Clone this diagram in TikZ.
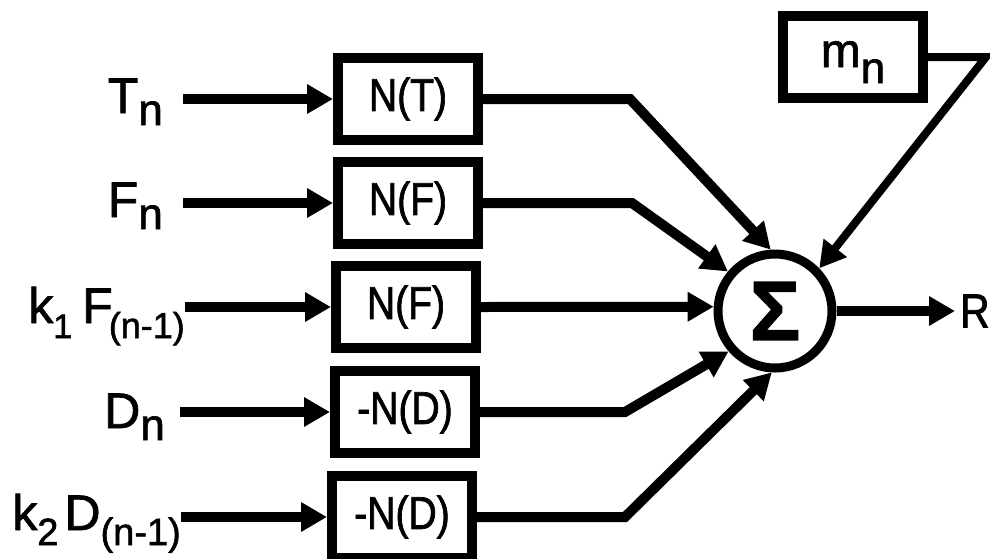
\documentclass[tikz,border=0pt]{standalone}
\usepackage{fontspec}
\setmainfont[FakeBold=1.5]{Liberation Sans}
\newfontfamily\narrowfont[FakeStretch=0.85,FakeBold=1.5]{Liberation Sans}
\usetikzlibrary{arrows.meta}
\newcommand\sz[1]{\fontsize{#1}{#1}\selectfont}
\newcommand\lowr[3]{\raisebox{-#1pt}{\sz{#2}#3}}
\begin{document}
\begin{tikzpicture}[x=1pt,y=-1pt,
  blk/.style={draw, line width=10pt, minimum width=140pt, minimum height=82pt, inner sep=0pt, font=\narrowfont\sz{46}},
  lbl/.style={anchor=base east, inner sep=0pt, font=\sz{50}},
  arr/.style={line width=10pt, line join=miter, -{Triangle[length=26pt,width=28pt]}},
  wire/.style={line width=10pt, line join=miter}
]
\useasboundingbox (0,0) rectangle (990,558);
\fill[white] (0,0) rectangle (990,558);

% blocks
\node[blk] (NT)  at (408,99)  {N(T)};
\node[blk] (NF)  at (408,203) {N(F)};
\node[blk] (NF2) at (406,307) {N(F)};
\node[blk] (ND)  at (405,412) {-N(D)};
\node[blk] (ND2) at (402,517) {-N(D)};
\node[blk, font=\sz{48}, text height=36pt, text depth=16pt] (mn) at (853,57) {m\lowr{16}{44}{n}};

% summing junction
\node[circle, draw, line width=9pt, minimum size=114pt, inner sep=0pt] (sig) at (775,311) {\sz{84}\bfseries Σ};

% input labels
\node[lbl] (Tn) at (163,113) {T\lowr{12}{44}{n}};
\node[lbl] (Fn) at (163,217) {F\lowr{12}{44}{n}};
\node[lbl] (kF) at (185,323) {k\lowr{15}{34}{1}\kern10pt F\kern-4pt\lowr{15}{36}{(n-1)}};
\node[lbl] (Dn) at (165,428) {D\lowr{12}{44}{n}};
\node[lbl] (kD) at (181,530) {k\lowr{15}{38}{2}\kern6pt D\lowr{15}{38}{(n-1)}};

% output label
\node[anchor=west, inner sep=0pt, font=\narrowfont\sz{48}] (R) at (960,311) {R};

% corner points
\coordinate (c1) at (630,99);
\coordinate (c2) at (632,203);
\coordinate (c4) at (625,412);
\coordinate (c5) at (625,517);
\coordinate (c6) at (986,57);

% input arrows
\draw[arr, shorten <=20pt] (Tn.east |- NT) -- (NT.west);
\draw[arr, shorten <=20pt] (Fn.east |- NF) -- (NF.west);
\draw[arr] (kF.east |- NF2) -- (NF2.west);
\draw[arr, shorten <=15pt] (Dn.east |- ND) -- (ND.west);
\draw[arr] (kD.east |- ND2) -- (ND2.west);

% block outputs to junction
\draw[arr] (NT.east) -- (c1) -- (sig.94);
\draw[arr] (NF.east) -- (c2) -- (sig.140);
\draw[arr] (NF2.east) -- (sig.176);
\draw[arr] (ND.east) -- (c4) -- (sig.221);
\draw[arr] (ND2.east) -- (c5) -- (sig.267);
\draw[arr, line width=8pt] (mn.east) -- (c6) -- (sig.44);

% output
\draw[arr, shorten >=5pt] (sig.east) -- (R.west);
\end{tikzpicture}
\end{document}
